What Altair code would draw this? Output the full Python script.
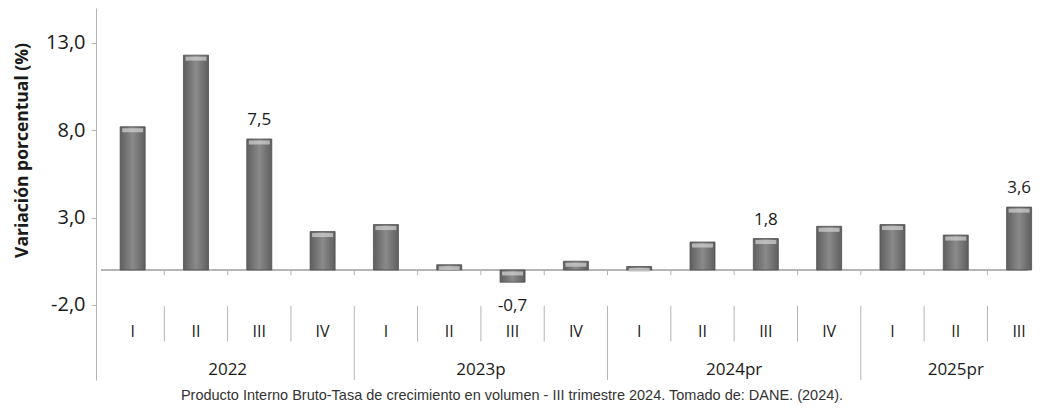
import altair as alt
import pandas as pd

years = ["2022", "2022", "2022", "2022",
         "2023p", "2023p", "2023p", "2023p",
         "2024pr", "2024pr", "2024pr", "2024pr",
         "2025pr", "2025pr", "2025pr"]
quarters = ["I", "II", "III", "IV", "I", "II", "III", "IV",
            "I", "II", "III", "IV", "I", "II", "III"]
values = [8.2, 12.3, 7.5, 2.2, 2.6, 0.3, -0.7, 0.5,
          0.2, 1.6, 1.8, 2.5, 2.6, 2.0, 3.6]
labelled = ["III"]

y_ticks = [-2, 3, 8, 13]
caption = ("Producto Interno Bruto-Tasa de crecimiento en volumen - "
           "III trimestre 2024. Tomado de: DANE. (2024).")

df = pd.DataFrame({"year": years, "q": quarters, "v": values})
df["i"] = range(len(df))
df["c"] = df["i"] + 0.5
df["top"] = df["v"].clip(lower=0)
df["lab"] = df["v"].map(lambda x: f"{x:.1f}".replace(".", ","))
df["newyear"] = df["q"] == "I"

W, H = 937, 372
BAND = 64
FONT = "Open Sans"
AX = "#b5b5b5"
TXT = "#1a1a1a"

# last category band runs past the right edge, as in the reference
xs = alt.Scale(domain=[0, W / BAND], nice=False, zero=False)
ys = alt.Scale(domain=[-6.3, 15], nice=False, zero=False)

yaxis = alt.Axis(values=y_ticks,
                 labelExpr="replace(replace(format(datum.value, '.1f'), '.', ','), '\u2212', '-')",
                 grid=False, domainColor=AX, tickColor=AX, tickSize=5,
                 labelFont=FONT, labelFontSize=20, labelColor=TXT,
                 labelPadding=6,
                 title="Variación porcentual (%)", titleFont=FONT,
                 titleFontSize=17.5, titleFontWeight="bold",
                 titleColor=TXT, titleX=-74, titleY=142,
                 titleBaseline="middle", titleAlign="center", titleAngle=270)


def X(field):
    return alt.X(field, scale=xs, axis=None)


def Yd(val):
    return alt.Y(datum=val, scale=ys, axis=yaxis)


base = alt.Chart(df)

grad = {"gradient": "linear", "x1": 0, "y1": 0, "x2": 1, "y2": 0,
        "stops": [{"offset": 0, "color": "#5f5f5f"},
                  {"offset": 0.5, "color": "#8a8a8a"},
                  {"offset": 1, "color": "#5f5f5f"}]}

bars = base.mark_bar(size=25, fill=grad, stroke="#4f4f4f", strokeWidth=0.8).encode(
    x=X("c:Q"),
    y=alt.Y("v:Q", scale=ys, axis=yaxis),
    y2=alt.datum(0),
)

caps = base.mark_tick(orient="horizontal", size=21, thickness=4,
                      color="#d4d4d4", yOffset=3.5).encode(
    x=X("c:Q"), y=alt.Y("top:Q", scale=ys, axis=yaxis))

zero = base.mark_rule(color=AX, strokeWidth=1).encode(
    x=alt.X(datum=0, scale=xs, axis=None), x2=alt.datum(W / BAND), y=Yd(0))

ticks = base.transform_filter("datum.i > 0").mark_rule(color=AX).encode(
    x=X("i:Q"), y=Yd(0), y2=alt.datum(-0.3))

qsep = base.transform_filter("datum.i > 0 && !datum.newyear").mark_rule(color=AX).encode(
    x=X("i:Q"), y=Yd(-2.05), y2=alt.datum(-4.1))

ysep = base.transform_filter("datum.i > 0 && datum.newyear").mark_rule(color=AX).encode(
    x=X("i:Q"), y=Yd(-2.05), y2=alt.datum(-6.3))

qlab = base.mark_text(font=FONT, fontSize=16, color=TXT).encode(
    x=X("c:Q"), y=Yd(-3.55), text="q:N")

ylab = base.transform_aggregate(m="mean(c)", groupby=["year"]).mark_text(
    font=FONT, fontSize=17, color=TXT).encode(
    x=X("m:Q"), y=Yd(-5.75), text="year:N")

lab_base = base.transform_filter(alt.FieldOneOfPredicate(field="q", oneOf=labelled))

pos_lab = lab_base.transform_filter("datum.v >= 0").mark_text(
    font=FONT, fontSize=17, color=TXT, dy=-19).encode(
    x=X("c:Q"), y=alt.Y("v:Q", scale=ys, axis=yaxis), text="lab:N")

neg_lab = lab_base.transform_filter("datum.v < 0").mark_text(
    font=FONT, fontSize=17, color=TXT, dy=24).encode(
    x=X("c:Q"), y=alt.Y("v:Q", scale=ys, axis=yaxis), text="lab:N")

cap_text = alt.Chart(pd.DataFrame({"t": [caption]})).mark_text(
    font="Liberation Sans", fontSize=14.5, color="#333333").encode(
    x=alt.value(416), y=alt.value(388), text="t:N")

chart = alt.layer(zero, ticks, qsep, ysep, bars, caps, qlab, ylab, pos_lab, neg_lab, cap_text).properties(
    width=W, height=H,
    autosize=alt.AutoSizeParams(type="none"),
    padding={"left": 88, "top": 0, "right": 8, "bottom": 23},
    background="white",
).configure_view(stroke=None)

chart.save("out.html", embed_options={"renderer": "svg", "actions": False})
